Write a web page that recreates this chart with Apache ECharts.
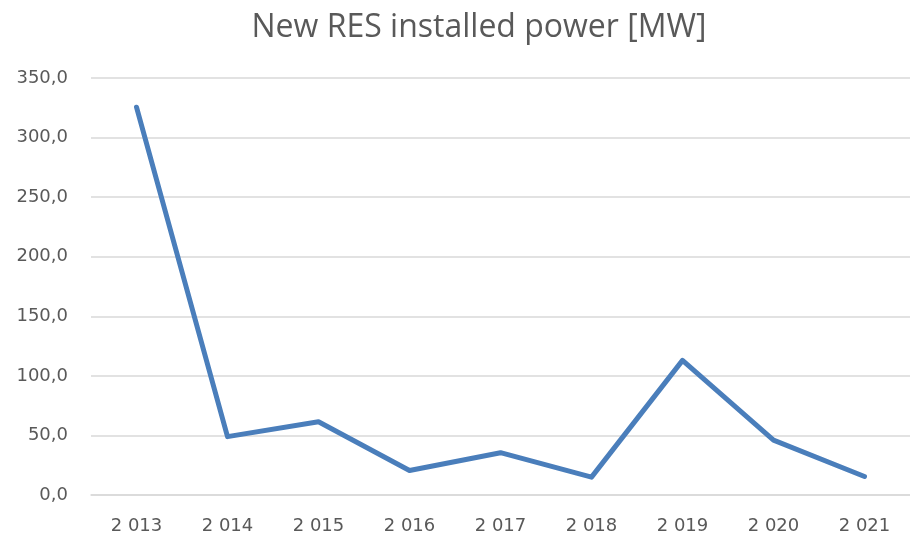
<!DOCTYPE html>
<html>
<head>
<meta charset="utf-8">
<script src="https://cdn.jsdelivr.net/npm/echarts@6/dist/echarts.min.js"></script>
<style>
  html, body { margin: 0; padding: 0; background: #fff; }
  #chart { width: 910px; height: 537px; }
</style>
</head>
<body>
<div id="chart"></div>
<script>
const years = ['2 013', '2 014', '2 015', '2 016', '2 017', '2 018', '2 019', '2 020', '2 021'];
const installed = [325.5, 49, 61.5, 20.5, 35.5, 15, 113, 46, 15.5];

const yMin = 0;
const yMax = 350;
const yStep = 50;

const chart = echarts.init(document.getElementById('chart'));
chart.setOption({
  animation: false,
  textStyle: { fontFamily: 'DejaVu Sans' },
  title: {
    text: 'New RES installed power [MW]',
    left: 474,
    textAlign: 'center',
    top: 7,
    textStyle: { fontFamily: 'Open Sans', fontSize: 32, fontWeight: 'normal', color: '#595959' }
  },
  grid: { left: 91, top: 78, width: 831, height: 417 },
  xAxis: {
    type: 'category',
    data: years,
    boundaryGap: true,
    axisLine: { show: true, lineStyle: { color: '#d9d9d9', width: 1.5 } },
    axisTick: { show: false },
    axisLabel: { color: '#595959', fontSize: 18, margin: 22 }
  },
  yAxis: {
    type: 'value',
    min: yMin,
    max: yMax,
    interval: yStep,
    axisLine: { show: false },
    axisTick: { show: false },
    splitLine: { lineStyle: { color: '#d9d9d9', width: 1.5 } },
    axisLabel: {
      color: '#595959',
      fontSize: 18,
      margin: 23,
      formatter: v => v.toFixed(1).replace('.', ',')
    }
  },
  series: [{
    name: 'New RES installed power',
    type: 'line',
    data: installed,
    showSymbol: false,
    lineStyle: { color: '#4a7ebb', width: 5, cap: 'round', join: 'round' }
  }]
});
</script>
</body>
</html>
